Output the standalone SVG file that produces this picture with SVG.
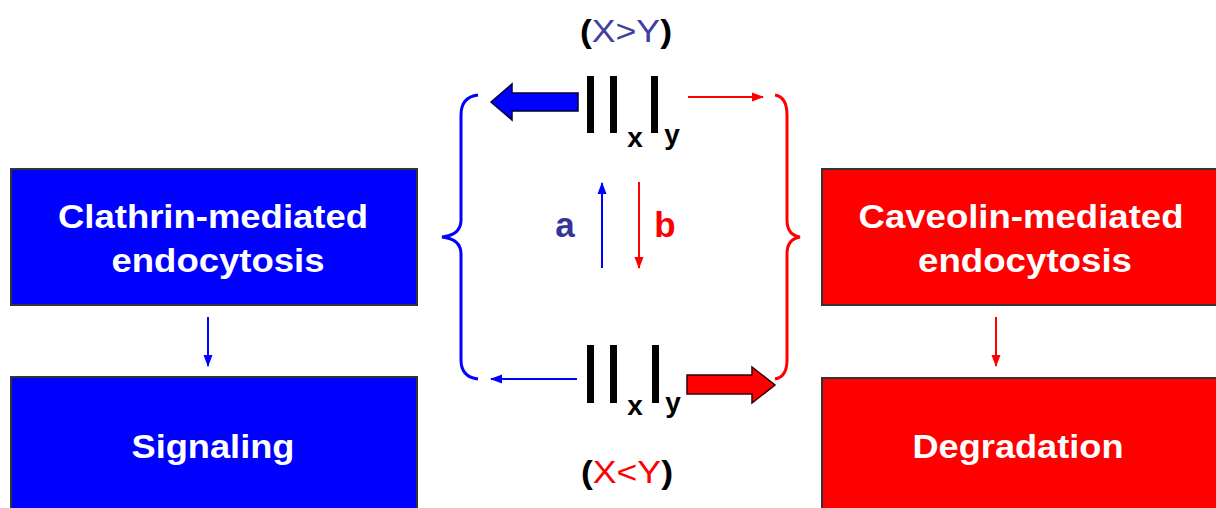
<svg xmlns="http://www.w3.org/2000/svg" width="1216" height="508" viewBox="0 0 1216 508">
<style>
.box{stroke:#333;stroke-width:2}
.blue{fill:#0000ff}
.red{fill:#ff0000}
.bt{font-family:"Liberation Sans",Arial,sans-serif;font-weight:bold;font-size:33px;fill:#fff;text-anchor:middle}
.bar{fill:#000}
.sub{font-family:"Liberation Sans",Arial,sans-serif;font-weight:bold;font-size:28px;fill:#000;text-anchor:middle}
.cond{font-family:"Liberation Sans",Arial,sans-serif;font-size:31px;text-anchor:middle}
.lbl{font-family:"Liberation Sans",Arial,sans-serif;font-weight:bold;font-size:35px;text-anchor:middle}
.lb{fill:none;stroke:#0000ff;stroke-width:2}
.lr{fill:none;stroke:#ff0000;stroke-width:2}
.brb{fill:none;stroke:#0000ff;stroke-width:3}
.brr{fill:none;stroke:#ff0000;stroke-width:3}
</style>
<defs>
<marker id="hb" markerWidth="12" markerHeight="10" refX="11" refY="5" orient="auto" markerUnits="userSpaceOnUse"><path d="M0,0.5 L12,5 L0,9.5 Z" fill="#0000ff"/></marker>
<marker id="hr" markerWidth="12" markerHeight="10" refX="11" refY="5" orient="auto" markerUnits="userSpaceOnUse"><path d="M0,0.5 L12,5 L0,9.5 Z" fill="#ff0000"/></marker>
</defs>
<rect width="1216" height="508" fill="#fff"/>
<g id="clathrin">
<rect class="box blue" x="11" y="169" width="406" height="136"/>
<text class="bt" x="213" y="228" textLength="310" lengthAdjust="spacingAndGlyphs">Clathrin-mediated</text>
<text class="bt" x="218" y="272" textLength="213" lengthAdjust="spacingAndGlyphs">endocytosis</text>
</g>
<g id="signaling">
<rect class="box blue" x="11" y="377" width="406" height="140"/>
<text class="bt" x="213" y="458" textLength="163" lengthAdjust="spacingAndGlyphs">Signaling</text>
</g>
<g id="caveolin">
<rect class="box red" x="822" y="169" width="410" height="136"/>
<text class="bt" x="1021" y="228" textLength="325" lengthAdjust="spacingAndGlyphs">Caveolin-mediated</text>
<text class="bt" x="1025" y="272" textLength="214" lengthAdjust="spacingAndGlyphs">endocytosis</text>
</g>
<g id="degradation">
<rect class="box red" x="822" y="378" width="410" height="140"/>
<text class="bt" x="1018" y="458" textLength="211" lengthAdjust="spacingAndGlyphs">Degradation</text>
</g>
<g id="top-state">
<text class="cond" x="626" y="42" textLength="92" lengthAdjust="spacingAndGlyphs"><tspan fill="#000" font-weight="bold">(</tspan><tspan fill="#4040a0">X&gt;Y</tspan><tspan fill="#000" font-weight="bold">)</tspan></text>
<rect class="bar" x="587" y="76" width="7" height="57"/>
<rect class="bar" x="610" y="76" width="7" height="57"/>
<rect class="bar" x="651" y="76" width="7" height="57"/>
<text class="sub" x="635" y="147">x</text>
<text class="sub" x="672" y="144">y</text>
</g>
<g id="bottom-state">
<rect class="bar" x="587" y="345" width="7" height="58"/>
<rect class="bar" x="610" y="345" width="7" height="58"/>
<rect class="bar" x="652" y="345" width="7" height="58"/>
<text class="sub" x="635" y="415">x</text>
<text class="sub" x="673" y="412">y</text>
<text class="cond" x="627" y="483" textLength="92" lengthAdjust="spacingAndGlyphs"><tspan fill="#000" font-weight="bold">(</tspan><tspan fill="#ff0000">X&lt;Y</tspan><tspan fill="#000" font-weight="bold">)</tspan></text>
</g>
<g id="labels">
<text class="lbl" x="565" y="237" fill="#333399">a</text>
<text class="lbl" x="665" y="237" fill="#ff0000">b</text>
</g>
<g id="connectors">
<polygon points="491,102 512,84 512,93 578,93 578,111 512,111 512,120" fill="#0000ff" stroke="#000033" stroke-width="1.5"/>
<polygon points="687,375 752,375 752,367 775,385 752,403 752,394 687,394" fill="#ff0000" stroke="#330000" stroke-width="1.5"/>
<line class="lr" x1="688" y1="97" x2="763" y2="97" marker-end="url(#hr)"/>
<line class="lb" x1="577" y1="379" x2="491" y2="379" marker-end="url(#hb)"/>
<line class="lb" x1="602" y1="268" x2="602" y2="183" marker-end="url(#hb)"/>
<line class="lr" x1="639" y1="182" x2="639" y2="268" marker-end="url(#hr)"/>
<line class="lb" x1="208" y1="317" x2="208" y2="366" stroke-width="1.5" marker-end="url(#hb)"/>
<line class="lr" x1="996" y1="317" x2="996" y2="366" stroke-width="1.5" marker-end="url(#hr)"/>
<path class="brb" d="M478,95 Q461,97 461,115 L461,220 Q461,235 442,237 Q461,239 461,254 L461,360 Q461,377 478,379"/>
<path class="brr" d="M775,95 Q787,97 787,115 L787,220 Q787,235 800,237 Q787,239 787,254 L787,360 Q787,377 775,379"/>
</g>
</svg>
